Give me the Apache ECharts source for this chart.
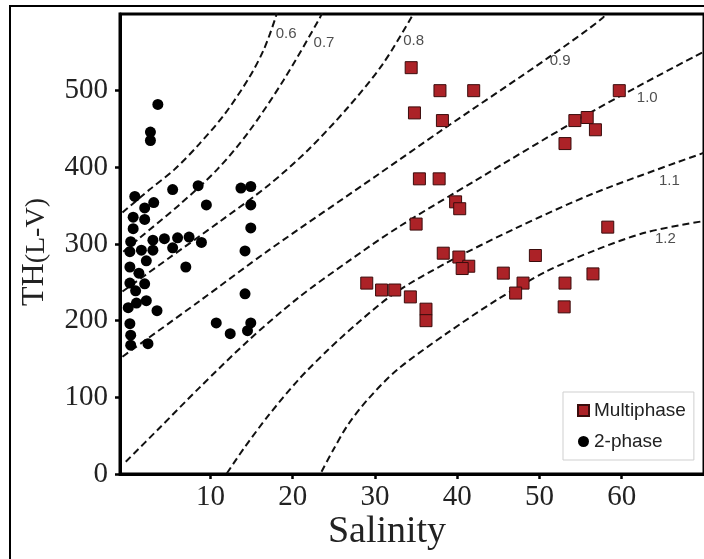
<!DOCTYPE html>
<html><head><meta charset="utf-8">
<script src="https://cdn.jsdelivr.net/npm/echarts@6/dist/echarts.min.js"></script>
<style>html,body{margin:0;padding:0;background:#fff}#c{width:704px;height:559px}</style>
</head><body><div id="c"></div>
<script>
const xTicks = [10, 20, 30, 40, 50, 60];
const yTicks = [0, 100, 200, 300, 400, 500];

const multiphase = [
  [34.4,530],[37.9,500],[42.0,500],[34.8,471],[38.2,461],[59.7,500],[54.3,461],[55.8,465],
  [56.8,449],[53.1,431],[35.4,385],[37.8,385],[39.8,355],[40.3,346],[35.0,326],[58.3,322],
  [38.3,288],[40.2,283],[41.4,271],[40.6,268],[49.5,285],[45.6,262],[56.5,261],[48.0,249],
  [47.1,236],[53.1,249],[53.0,218],[29.0,249],[30.8,240],[32.4,240],[34.3,231],[36.2,215],[36.2,200]
];

const twoPhase = [
  [3.6,482],[2.7,446],[2.7,435],[0.8,362],[3.1,354],[2.0,347],[0.6,335],[2.0,332],[0.6,320],
  [0.3,303],[3.0,305],[4.4,307],[6.0,308],[7.4,309],[0.2,290],[1.6,292],[3.0,292],[5.4,295],
  [8.9,302],[2.2,278],[0.2,270],[1.3,262],[7.0,270],[0.2,249],[2.0,248],[0.9,239],[1.0,223],
  [2.2,226],[0.0,217],[3.5,213],[0.2,196],[0.3,181],[0.3,168],[2.4,170],[5.4,371],[8.5,376],
  [13.7,373],[14.9,375],[9.5,351],[14.9,351],[14.9,321],[14.2,291],[14.2,235],[10.7,197],
  [14.9,197],[14.5,187],[12.4,183]
];

const iso06 = [[-0.7,341],[2.6,371],[5.6,397],[8.6,430],[11.7,469],[14.7,517],[16.5,554],[17.9,595],[18.3,612]];
const iso07 = [[-0.6,290],[1.4,308],[6.2,351],[10.8,397],[14.7,447],[18.9,514],[23.3,595],[23.7,605]];
const iso08 = [[-0.7,238],[5.0,282],[11.1,329],[17.1,377],[21.9,423],[26.7,478],[30.9,534],[34.5,597],[34.8,605]];
const iso09 = [[-0.7,153],[8.6,225],[17.1,292],[30.3,390],[38.2,449],[51.2,544],[57.7,595],[58.2,605]];
const iso10 = [[-0.3,16],[3.8,60],[8.6,112],[14.7,175],[20.7,230],[26.7,277],[32.7,321],[42.4,384],[54.3,460],[61.7,504],[70.0,551]];
const iso11 = [[12.0,1],[14.1,34],[17.1,77],[20.7,123],[24.3,162],[27.9,197],[32.4,236],[38.8,276],[47.2,321],[56.8,367],[70.0,419]];
const iso12 = [[23.5,3],[24.9,31],[26.7,64],[29.1,97],[32.7,136],[38.8,184],[44.8,227],[50.8,264],[56.8,292],[62.9,315],[70.0,330]];
const isoNames = ['0.6','0.7','0.8','0.9','1.0','1.1','1.2'];
const isoLabelPos = [[19.2,574],[23.8,563],[34.7,565],[52.5,539],[63.1,491],[65.8,383],[65.3,307]];

const chart = echarts.init(document.getElementById('c'), null, {renderer: 'canvas'});

const isoSeries = [iso06, iso07, iso08, iso09, iso10, iso11, iso12].map((d, i) => ({
  type: 'line', name: 'iso ' + isoNames[i], data: d, symbol: 'none', smooth: 0.3,
  silent: true, z: 1, lineStyle: {color: '#111', width: 2, type: [7, 4]}
}));

const serif = 'Liberation Serif';
const sans = 'Liberation Sans';

chart.setOption({
  animation: false,
  backgroundColor: '#fff',
  grid: {left: 120, top: 14, width: 589, height: 460, show: true, borderWidth: 3, borderColor: '#000', containLabel: false},
  xAxis: {
    type: 'value', min: -1, max: 70,
    axisLine: {show: true, onZero: false, lineStyle: {color: '#000', width: 3}},
    axisTick: {show: true, customValues: xTicks, length: 5, lineStyle: {color: '#000', width: 2.5}},
    axisLabel: {show: true, customValues: xTicks, margin: 9, fontFamily: serif, fontSize: 29, color: '#222'},
    splitLine: {show: false}
  },
  yAxis: {
    type: 'value', min: 0, max: 600,
    axisLine: {show: true, onZero: false, lineStyle: {color: '#000', width: 3}},
    axisTick: {show: true, customValues: yTicks, length: 5, lineStyle: {color: '#000', width: 2.5}},
    axisLabel: {show: true, customValues: yTicks, margin: 12, fontFamily: serif, fontSize: 29, color: '#222'},
    splitLine: {show: false}
  },
  legend: {
    data: [{name: 'Multiphase', icon: 'rect'}, {name: '2-phase', icon: 'circle'}],
    orient: 'vertical', left: 563, top: 392,
    itemWidth: 11, itemHeight: 11, itemGap: 12,
    padding: [9, 8, 9, 14],
    borderColor: '#cfcfcf', borderWidth: 1, backgroundColor: '#fff',
    textStyle: {fontSize: 19, fontFamily: sans, color: '#222'}
  },
  graphic: [
    {type: 'rect', silent: true, z: -10, shape: {x: 10, y: 6, width: 740, height: 620}, style: {fill: 'none', stroke: '#000', lineWidth: 2}},
    {type: 'text', x: 35, y: 252, rotation: Math.PI / 2, silent: true,
      style: {text: '{a|TH}{b|(L-V)}', align: 'center', verticalAlign: 'middle', textAlign: 'center', textVerticalAlign: 'middle',
        rich: {a: {fontSize: 32, fontFamily: serif, fill: '#222', color: '#222', verticalAlign: 'bottom'},
               b: {fontSize: 28, fontFamily: serif, fill: '#222', color: '#222', verticalAlign: 'bottom'}}}},
    {type: 'text', x: 387, y: 532, silent: true,
      style: {text: 'Salinity', font: '38px "Liberation Serif"', fill: '#222', align: 'center', verticalAlign: 'middle', textAlign: 'center', textVerticalAlign: 'middle'}}
  ],
  series: isoSeries.concat([
    {type: 'scatter', name: 'iso labels', silent: true, z: 2, symbol: 'circle', symbolSize: 0.1,
      itemStyle: {color: 'transparent'},
      data: isoLabelPos.map((p, i) => ({name: isoNames[i], value: p})),
      label: {show: true, position: 'inside', formatter: '{b}', fontSize: 15, fontFamily: sans, color: '#222'}},
    {type: 'scatter', name: 'Multiphase', data: multiphase, symbol: 'rect', symbolSize: 12, z: 4,
      itemStyle: {color: '#ac2227', borderColor: '#3a0c0c', borderWidth: 1, opacity: 1}},
    {type: 'scatter', name: '2-phase', data: twoPhase, symbol: 'circle', symbolSize: 11, z: 3,
      itemStyle: {color: '#000', opacity: 1}}
  ])
});
</script>
</body></html>
